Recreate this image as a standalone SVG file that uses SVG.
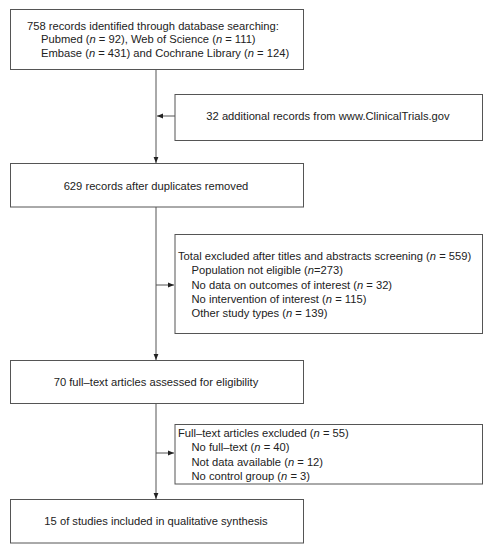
<svg xmlns="http://www.w3.org/2000/svg" width="491" height="550" viewBox="0 0 491 550">
<defs>
<style>
.box{fill:#fff;stroke:#555;stroke-width:1}
.t{font-family:"Liberation Sans",Arial,sans-serif;font-size:11.2px;fill:#222}
.c{text-anchor:middle}
.ln{stroke:#555;stroke-width:1;fill:none}
</style>
<marker id="ah" viewBox="0 0 10 10" refX="10" refY="5" markerWidth="6" markerHeight="6" orient="auto" markerUnits="userSpaceOnUse">
<path d="M0,1 L10,5 L0,9 z" fill="#222"/>
</marker>
</defs>
<rect width="491" height="550" fill="#fff"/>
<g id="connectors">
<line class="ln" x1="156" y1="69" x2="156" y2="163" marker-end="url(#ah)"/>
<line class="ln" x1="175" y1="116" x2="157" y2="116" marker-end="url(#ah)"/>
<line class="ln" x1="156" y1="207" x2="156" y2="360" marker-end="url(#ah)"/>
<line class="ln" x1="156" y1="285" x2="174" y2="285" marker-end="url(#ah)"/>
<line class="ln" x1="156" y1="403" x2="156" y2="499" marker-end="url(#ah)"/>
<line class="ln" x1="156" y1="453" x2="174" y2="453" marker-end="url(#ah)"/>
</g>
<g id="n1">
<rect class="box" x="10.5" y="9.5" width="293" height="60"/>
<text class="t" x="27" y="30">758 records identified through database searching:</text>
<text class="t" x="41" y="43">Pubmed (<tspan font-style="italic">n</tspan> = 92), Web of Science (<tspan font-style="italic">n</tspan> = 111)</text>
<text class="t" x="41" y="57">Embase (<tspan font-style="italic">n</tspan> = 431) and Cochrane Library (<tspan font-style="italic">n</tspan> = 124)</text>
</g>
<g id="n2">
<rect class="box" x="175" y="94.5" width="307.5" height="46"/>
<text class="t c" x="328" y="120">32 additional records from www.ClinicalTrials.gov</text>
</g>
<g id="n3">
<rect class="box" x="10.5" y="163.5" width="293" height="43.5"/>
<text class="t c" x="156" y="189.5">629 records after duplicates removed</text>
</g>
<g id="n4">
<rect class="box" x="175" y="234.5" width="307.5" height="99"/>
<text class="t" x="178" y="259.5">Total excluded after titles and abstracts screening (<tspan font-style="italic">n</tspan> = 559)</text>
<text class="t" x="191.5" y="273.5">Population not eligible (<tspan font-style="italic">n</tspan>=273)</text>
<text class="t" x="191.5" y="288.5">No data on outcomes of interest (<tspan font-style="italic">n</tspan> = 32)</text>
<text class="t" x="191.5" y="302.5">No intervention of interest (<tspan font-style="italic">n</tspan> = 115)</text>
<text class="t" x="191.5" y="317">Other study types (<tspan font-style="italic">n</tspan> = 139)</text>
</g>
<g id="n5">
<rect class="box" x="10.5" y="360.5" width="293" height="43"/>
<text class="t c" x="156" y="385.5">70 full–text articles assessed for eligibility</text>
</g>
<g id="n6">
<rect class="box" x="175" y="424.5" width="307.5" height="59.5"/>
<text class="t" x="178" y="437">Full–text articles excluded (<tspan font-style="italic">n</tspan> = 55)</text>
<text class="t" x="191.5" y="450.5">No full–text (<tspan font-style="italic">n</tspan> = 40)</text>
<text class="t" x="191.5" y="465.5">Not data available (<tspan font-style="italic">n</tspan> = 12)</text>
<text class="t" x="191.5" y="479.5">No control group (<tspan font-style="italic">n</tspan> = 3)</text>
</g>
<g id="n7">
<rect class="box" x="10.5" y="499.5" width="293" height="43.5"/>
<text class="t c" x="156" y="524.5">15 of studies included in qualitative synthesis</text>
</g>
</svg>
